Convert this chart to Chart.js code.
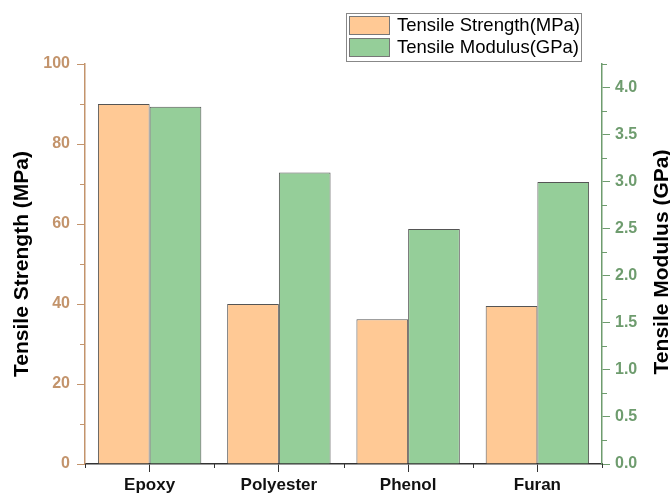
<!DOCTYPE html>
<html lang="en">
<head>
  <meta charset="UTF-8" />
  <title>Tensile Strength and Modulus</title>
  <style>
    html, body { margin: 0; padding: 0; background: #fff; }
    #wrap { width: 670px; height: 494px; }
  </style>
</head>
<body>
  <div id="wrap"><canvas id="grafico"></canvas></div>

<script src="https://cdn.jsdelivr.net/npm/chart.js@4.4.0/dist/chart.umd.min.js"></script>
<script>
  // datos
  const categorias = ['Epoxy', 'Polyester', 'Phenol', 'Furan'];
  const resistencia = [90, 40, 36.2, 39.5];   // MPa
  const modulo = [3.8, 3.1, 2.5, 3.0];        // GPa
  const etiquetas = ['Tensile Strength(MPa)', 'Tensile Modulus(GPa)'];
  const titulosEje = ['Tensile Strength (MPa)', 'Tensile Modulus (GPa)'];

  const colNaranja = '#FFC995';
  const colVerde = '#95CE99';
  const colTan = '#C3946C';
  const colVerdeEje = '#6E9C6E';
  const FONT = 'Arial, "Liberation Sans", sans-serif';

  // ticks menores, titulos y leyenda con borde
  const extras = {
    id: 'extras',
    afterDraw(chart) {
      const ctx = chart.ctx;
      const { left, right, top, bottom } = chart.chartArea;
      const y = chart.scales.y, y1 = chart.scales.y1;
      ctx.save();
      ctx.lineWidth = 1;

      ctx.strokeStyle = colTan;
      for (let v = 10; v < 100; v += 20) {
        const p = Math.round(y.getPixelForValue(v)) + 0.5;
        ctx.beginPath(); ctx.moveTo(left - 5, p); ctx.lineTo(left, p); ctx.stroke();
      }
      ctx.strokeStyle = colVerdeEje;
      for (let v = 0.25; v < 4.3; v += 0.5) {
        const p = Math.round(y1.getPixelForValue(v)) + 0.5;
        ctx.beginPath(); ctx.moveTo(right, p); ctx.lineTo(right + 5, p); ctx.stroke();
      }
      ctx.strokeStyle = '#333';
      const paso = (right - left) / categorias.length;
      for (let i = 0; i <= categorias.length; i++) {
        const p = Math.round(left + paso * i) + 0.5;
        ctx.beginPath(); ctx.moveTo(p, bottom); ctx.lineTo(p, bottom + 4); ctx.stroke();
      }

      // titulos de ejes (ambos leidos de abajo hacia arriba)
      ctx.fillStyle = '#000';
      ctx.font = 'bold 21px ' + FONT;
      ctx.textAlign = 'center';
      ctx.textBaseline = 'alphabetic';
      ctx.save();
      ctx.translate(28, (top + bottom) / 2);
      ctx.rotate(-Math.PI / 2);
      ctx.fillText(titulosEje[0], 0, 0);
      ctx.restore();
      ctx.save();
      ctx.translate(668, (top + bottom) / 2 - 2);
      ctx.rotate(-Math.PI / 2);
      ctx.fillText(titulosEje[1], 0, 0);
      ctx.restore();

      // leyenda
      ctx.strokeStyle = '#888';
      ctx.strokeRect(346.5, 13.5, 235, 48);
      const colores = [colNaranja, colVerde];
      ctx.font = '18.5px ' + FONT;
      ctx.textAlign = 'left';
      ctx.textBaseline = 'middle';
      chart.data.datasets.forEach((ds, i) => {
        const yy = 16 + i * 22;
        ctx.fillStyle = colores[i];
        ctx.fillRect(349, yy, 41, 19);
        ctx.strokeStyle = '#777';
        ctx.strokeRect(349.5, yy + 0.5, 40, 18);
        ctx.fillStyle = '#000';
        ctx.fillText(ds.label, 397, yy + 10);
      });
      ctx.restore();
    }
  };

  new Chart(document.getElementById('grafico'), {
    type: 'bar',
    data: {
      labels: categorias,
      datasets: [{
        label: etiquetas[0],
        data: resistencia,
        yAxisID: 'y',
        backgroundColor: colNaranja,
        borderColor: '#555',
        borderWidth: 1,
        categoryPercentage: 0.8,
        barPercentage: 1.0
      }, {
        label: etiquetas[1],
        data: modulo,
        yAxisID: 'y1',
        backgroundColor: colVerde,
        borderColor: '#555',
        borderWidth: 1,
        categoryPercentage: 0.8,
        barPercentage: 1.0
      }]
    },
    options: {
      responsive: true,
      maintainAspectRatio: false,
      animation: false,
      layout: { padding: { top: 64 } },
      plugins: { legend: { display: false }, tooltip: { enabled: false } },
      scales: {
        x: {
          grid: { drawOnChartArea: false, offset: false, tickLength: 8, color: '#333' },
          border: { color: '#333', width: 1.5 },
          ticks: { color: '#111', font: { family: FONT, size: 17, weight: 'bold' }, padding: 3 },
          afterFit(s) { s.height = 30; }
        },
        y: {
          position: 'left',
          min: 0, max: 100,
          grid: { drawOnChartArea: false, tickLength: 8, color: colTan },
          border: { color: colTan, width: 1.5 },
          ticks: { stepSize: 20, color: colTan, font: { family: FONT, size: 16, weight: 'bold' }, padding: 7 },
          afterFit(s) { s.width = 85; }
        },
        y1: {
          position: 'right',
          min: 0, max: 4.255,
          grid: { drawOnChartArea: false, tickLength: 8, color: colVerdeEje },
          border: { color: colVerdeEje, width: 1.5 },
          ticks: {
            stepSize: 0.5, color: colVerdeEje,
            font: { family: FONT, size: 16, weight: 'bold' }, padding: 5,
            callback: v => v.toFixed(1)
          },
          afterBuildTicks(s) { s.ticks = s.ticks.filter(t => t.value <= 4.0001); },
          afterFit(s) { s.width = 68; }
        }
      }
    },
    plugins: [extras]
  });
</script>
</body>
</html>
